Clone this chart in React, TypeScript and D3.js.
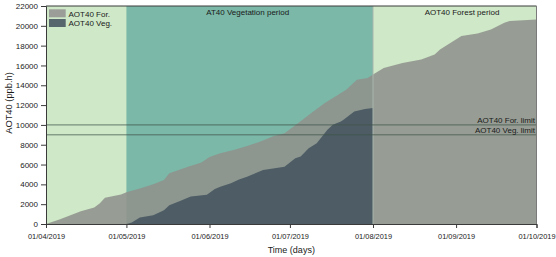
import React, { useEffect, useRef } from "react";
import * as d3 from "d3";

const forestDates = [
  "2019-04-01", "2019-04-06", "2019-04-14", "2019-04-19", "2019-04-21", "2019-04-23",
  "2019-04-29", "2019-05-01", "2019-05-06", "2019-05-11", "2019-05-15", "2019-05-17",
  "2019-05-24", "2019-05-29", "2019-06-01", "2019-06-05", "2019-06-10", "2019-06-15",
  "2019-06-20", "2019-06-25", "2019-06-29", "2019-07-04", "2019-07-09", "2019-07-14",
  "2019-07-19", "2019-07-22", "2019-07-26", "2019-07-30", "2019-08-01", "2019-08-05",
  "2019-08-12", "2019-08-19", "2019-08-24", "2019-08-26", "2019-08-30", "2019-09-03",
  "2019-09-09", "2019-09-14", "2019-09-19", "2019-09-21", "2019-10-01",
];
const forestValues = [
  0, 450, 1290, 1660, 2070, 2640,
  2980, 3210, 3590, 4000, 4430, 5110,
  5780, 6200, 6750, 7140, 7470, 7880,
  8320, 8890, 9160, 10180, 11190, 12210,
  13050, 13550, 14570, 14740, 15080, 15750,
  16260, 16600, 17100, 17610, 18290, 18960,
  19230, 19640, 20320, 20480, 20650,
];

const vegDates = [
  "2019-05-01", "2019-05-03", "2019-05-06", "2019-05-11", "2019-05-15", "2019-05-17",
  "2019-05-21", "2019-05-25", "2019-05-31", "2019-06-03", "2019-06-05", "2019-06-09",
  "2019-06-12", "2019-06-15", "2019-06-21", "2019-06-29", "2019-07-03", "2019-07-05",
  "2019-07-08", "2019-07-11", "2019-07-15", "2019-07-17", "2019-07-20", "2019-07-21",
  "2019-07-25", "2019-07-29", "2019-08-01",
];
const vegValues = [
  0, 150, 650, 880, 1390, 1900,
  2330, 2780, 2960, 3540, 3750, 4100,
  4500, 4770, 5440, 5780, 6630, 6800,
  7640, 8150, 9500, 10010, 10340, 10510,
  11350, 11600, 11700,
];

const yTicks = [0, 2000, 4000, 6000, 8000, 10000, 12000, 14000, 16000, 18000, 20000, 22000];
const xDomain = ["2019-04-01", "2019-10-01"];
const vegPeriod = ["2019-05-01", "2019-08-01"];
const limitNames = ["AOT40 For. limit", "AOT40 Veg. limit"];
const limitValues = [10000, 9000];
const legendNames = ["AOT40 For.", "AOT40 Veg."];
const periodLabels = ["AT40 Vegetation period", "AOT40 Forest period"];

const W = 556;
const H = 257;
const FONT = "'Liberation Sans', Arial, sans-serif";

export default function App() {
  const gx = useRef<SVGGElement>(null);
  const gy = useRef<SVGGElement>(null);

  const parse = d3.timeParse("%Y-%m-%d");
  const x = d3.scaleTime().domain(xDomain.map((d) => parse(d) as Date)).range([46, 536.5]);
  const y = d3.scaleLinear().domain([0, 22000]).range([224, 6]);

  const forest = forestDates.map((d, i) => ({ date: parse(d) as Date, v: forestValues[i] }));
  const veg = vegDates.map((d, i) => ({ date: parse(d) as Date, v: vegValues[i] }));

  const area = d3
    .area<{ date: Date; v: number }>()
    .x((d) => x(d.date))
    .y0(y(0))
    .y1((d) => y(d.v));

  const [x0, x1] = x.range();
  const vp0 = x(parse(vegPeriod[0]) as Date);
  const vp1 = x(parse(vegPeriod[1]) as Date);

  useEffect(() => {
    if (gx.current) {
      const ax = d3
        .axisBottom(x)
        .ticks(d3.timeMonth.every(1))
        .tickFormat(d3.timeFormat("%d/%m/%Y") as any)
        .tickSize(4)
        .tickPadding(6);
      const s = d3.select(gx.current);
      s.call(ax as any);
      s.select(".domain").attr("stroke", "#3a3a3a");
      s.selectAll(".tick line").attr("stroke", "#3a3a3a");
      s.selectAll(".tick text").attr("font-size", 7.4).attr("font-family", FONT).attr("fill", "#222");
    }
    if (gy.current) {
      const ay = d3.axisLeft(y).tickValues(yTicks).tickFormat(d3.format("d")).tickSize(5).tickPadding(3);
      const s = d3.select(gy.current);
      s.call(ay as any);
      s.select(".domain").attr("stroke", "#3a3a3a");
      s.selectAll(".tick line").attr("stroke", "#3a3a3a");
      s.selectAll(".tick text").attr("font-size", 8).attr("font-family", FONT).attr("fill", "#222");
    }
  });

  return (
    <svg
      width={W}
      height={H}
      style={{ position: "absolute", left: 0, top: 0, background: "#fff" }}
      fontFamily={FONT}
    >
      <rect x={x0} y={y(22000)} width={x1 - x0} height={y(0) - y(22000)} fill="#cfe8c8" />
      <rect x={vp0} y={y(22000)} width={vp1 - vp0} height={y(0) - y(22000)} fill="#7bb8a8" />
      <path d={area(forest) || ""} fill="#8f928c" fillOpacity={0.88} />
      <path d={area(veg) || ""} fill="#4e5d65" />
      <line x1={vp1} x2={vp1} y1={y(22000)} y2={y(0)} stroke="#a9b5ad" strokeWidth={1} />
      {limitValues.map((v, i) => (
        <line key={i} x1={x0} x2={x1} y1={y(v)} y2={y(v)} stroke="#3f5448" strokeOpacity={0.75} strokeWidth={1} />
      ))}
      {limitNames.map((n, i) => (
        <text key={n} x={x1 - 1.5} y={y(limitValues[i]) - 2} textAnchor="end" fontSize={8} fill="#1a1a1a">
          {n}
        </text>
      ))}
      <line x1={x0} x2={x1} y1={y(22000)} y2={y(22000)} stroke="#3a3a3a" />
      <line x1={x1} x2={x1} y1={y(22000)} y2={y(0)} stroke="#7a7a7a" />
      <text x={(vp0 + vp1) / 2 - 2} y={15} textAnchor="middle" fontSize={8} fill="#1a1a1a">
        {periodLabels[0]}
      </text>
      <text x={462} y={15} textAnchor="middle" fontSize={8} fill="#1a1a1a">
        {periodLabels[1]}
      </text>
      {legendNames.map((n, i) => (
        <g key={n}>
          <rect x={49} y={9.3 + i * 9.7} width={16.7} height={8} fill={i === 0 ? "#9a9d98" : "#56666c"} />
          <text x={68.5} y={16.5 + i * 9.7} fontSize={8} fill="#1a1a1a">
            {n}
          </text>
        </g>
      ))}
      <g ref={gx} transform={`translate(0,${y(0)})`} />
      <g ref={gy} transform={`translate(${x0},0)`} />
      <text transform={`translate(11.5,103) rotate(-90)`} textAnchor="middle" fontSize={9.3} fill="#1a1a1a">
        AOT40 (ppb.h)
      </text>
      <text x={291.3} y={253} textAnchor="middle" fontSize={9} fill="#1a1a1a">
        Time (days)
      </text>
    </svg>
  );
}
